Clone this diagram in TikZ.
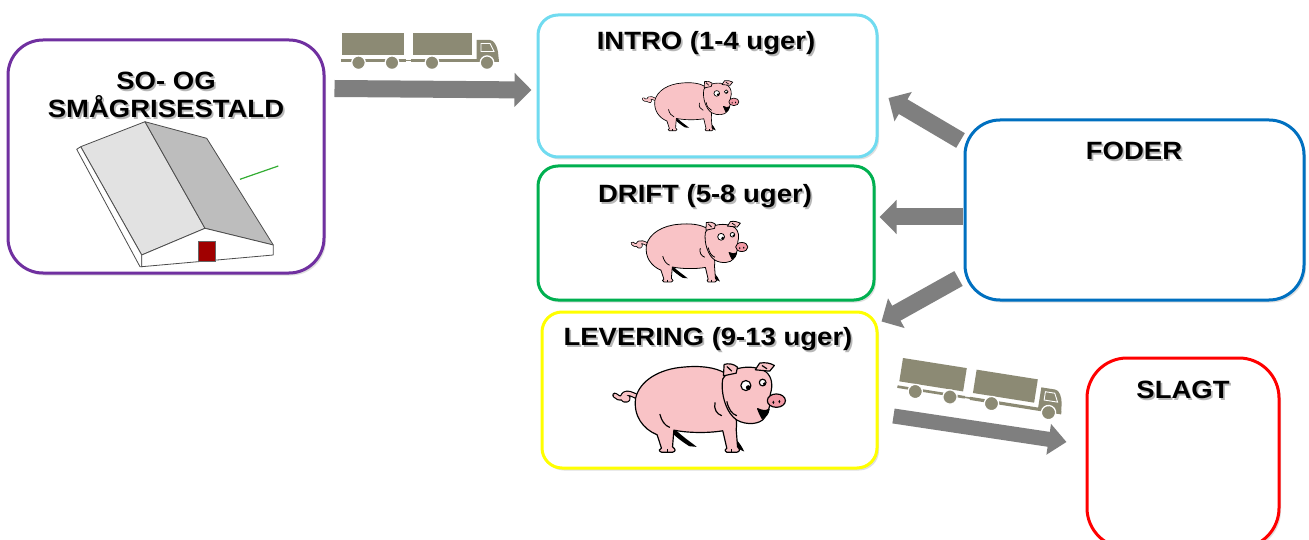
\documentclass[tikz,border=0pt]{standalone}
\usepackage{fontspec}
\usepackage{graphicx}
\setmainfont{Liberation Sans}
\usetikzlibrary{arrows.meta,shadows,calc}
\definecolor{cpurple}{HTML}{7030A0}
\definecolor{ccyan}{HTML}{70DBF0}
\definecolor{cgreen}{HTML}{00B050}
\definecolor{cyellow}{HTML}{FFFF00}
\definecolor{cblue}{HTML}{0070C0}
\definecolor{cred}{HTML}{FF0000}
\definecolor{arrowgray}{HTML}{7F7F7F}
\definecolor{truckc}{HTML}{8C8A74}
\definecolor{pigpink}{HTML}{F9C3C6}
\definecolor{snoutpink}{HTML}{F29AA6}
\definecolor{roofl}{HTML}{E2E2E2}
\definecolor{roofr}{HTML}{BDBDBD}
\definecolor{doorred}{HTML}{A00000}
\newcommand\shd[1]{\makebox[0pt][l]{\hspace{1.6pt}\raisebox{-1.8pt}{\textcolor{black!28}{#1}}}#1}
\newcommand\ttl[1]{\scalebox{1.1}[1]{\shd{#1}}}
\newcommand\drawpig[3]{%
\begin{scope}[shift={(#1,#2)},scale=#3,shift={(-480,-282)},line width=#3*3.5pt,line join=round]
  % far legs
  \fill[black] (405,345) .. controls (430,370) and (455,385) .. (470,398) -- (448,396) .. controls (430,385) and (410,370) .. (395,355) -- cycle;
  \fill[black] (555,345) .. controls (580,365) and (600,385) .. (612,412) -- (590,402) .. controls (575,385) and (560,370) .. (548,355) -- cycle;
  % tail
  \draw[black,line width=#3*16pt,line cap=round] (292,248) .. controls (275,240) and (265,235) .. (255,240) .. controls (245,246) and (248,262) .. (262,258) .. controls (270,254) and (262,244) .. (250,250) .. controls (240,255) and (232,250) .. (226,244);
  \draw[pigpink,line width=#3*9pt,line cap=round] (292,248) .. controls (275,240) and (265,235) .. (255,240) .. controls (245,246) and (248,262) .. (262,258) .. controls (270,254) and (262,244) .. (250,250) .. controls (240,255) and (232,250) .. (226,244);
  % body with near legs
  \filldraw[fill=pigpink] (288,252) .. controls (300,200) and (360,165) .. (430,160)
     .. controls (480,155) and (525,160) .. (555,178)
     -- (585,300)
     .. controls (590,320) and (590,335) .. (588,345)
     -- (592,398) .. controls (600,405) and (600,412) .. (590,414)
     -- (560,414) .. controls (552,410) and (555,404) .. (560,402)
     -- (548,350)
     .. controls (500,358) and (440,356) .. (402,348)
     -- (398,398) .. controls (408,405) and (408,412) .. (398,414)
     -- (365,414) .. controls (355,410) and (358,404) .. (365,402)
     -- (352,362)
     .. controls (310,345) and (280,305) .. (288,252) -- cycle;
  \draw (360,300) .. controls (365,320) and (375,335) .. (390,340);
  \draw (525,265) .. controls (520,285) and (530,300) .. (545,305);
  \draw (575,404) -- (575,414);
  \draw (382,404) -- (382,414);
  % head
  \filldraw[fill=pigpink] (548,195) .. controls (565,160) and (640,148) .. (678,175)
     .. controls (695,190) and (698,215) .. (690,240)
     -- (688,275)
     .. controls (685,290) and (678,300) .. (672,312)
     .. controls (660,330) and (620,335) .. (590,318)
     .. controls (560,300) and (540,240) .. (548,195) -- cycle;
  \draw (560,262) .. controls (565,285) and (575,300) .. (590,305);
  % ears
  \filldraw[fill=pigpink] (550,186) -- (552,152) .. controls (565,148) and (580,150) .. (592,160) -- (588,178) -- cycle;
  \draw (560,158) -- (575,172);
  \filldraw[fill=pigpink] (645,168) -- (658,148) .. controls (675,145) and (690,148) .. (702,155) -- (688,172) -- cycle;
  \draw (665,155) -- (680,165);
  % eyes
  \filldraw[fill=white] (617,215) circle (15);
  \fill[black] (624,221) circle (7);
  \filldraw[fill=white] (667,206) circle (10);
  \fill[black] (672,210) circle (5);
  % mouth
  \filldraw[fill=black] (652,284) .. controls (665,290) and (675,292) .. (686,286) .. controls (684,300) and (676,310) .. (665,313) .. controls (660,302) and (655,295) .. (652,284) -- cycle;
  % snout
  \filldraw[fill=snoutpink] (708,260) ellipse (27 and 20);
  \fill[black] (699,265) ellipse (3 and 5);
  \fill[black] (717,263) ellipse (3 and 5);
\end{scope}}
\newcommand\drawtruck[4]{%
\begin{scope}[shift={(#1,#2)},rotate=#4,scale=#3]
  \fill[truckc] (0,0) rectangle (61.5,22.5);
  \fill[truckc] (-1,26.5) rectangle (64,29);
  \fill[truckc] (64,27) rectangle (70,28.5);
  \fill[truckc] (71,0) rectangle (130,22.5);
  \fill[truckc] (69,26.5) rectangle (157,29.5);
  \fill[truckc] (134.5,7) -- (148,7) .. controls (152,7) and (155,13) .. (156,19) -- (157,29) -- (134.5,29) -- cycle;
  \draw[white,line width=0.9pt] (139,10.5) -- (148,10.5) -- (152,18.5) -- (139,18.5) -- cycle;
  \foreach \wx in {16.5,50,90,145} {\filldraw[fill=truckc,draw=white,line width=1.3pt] (\wx,29.7) circle (6.8);}
\end{scope}}
\tikzset{
  box/.style={draw, rectangle, line width=3pt, fill=white, inner sep=0pt,
    drop shadow={shadow xshift=2pt, shadow yshift=-2.5pt, opacity=0.25}},
  titlestyle/.style={inner sep=0pt, align=center, font=\fontsize{25}{28}\selectfont\bfseries},
  barrow/.style={draw=arrowgray, line width=17pt, -{Triangle[width=33pt,length=17pt]}},
  barrowthin/.style={draw=arrowgray, line width=15pt, -{Triangle[width=30pt,length=18pt]}},
  barnline/.style={draw=black!70, line width=0.8pt, line join=round}
}
\begin{document}
\begin{tikzpicture}[x=1pt,y=-1pt]
\useasboundingbox (0,0) rectangle (1309,540);
\clip (0,0) rectangle (1309,540);
\fill[white] (0,0) rectangle (1309,540);

% boxes
\node[box, draw=cpurple, rounded corners=35pt, minimum width=316pt, minimum height=233pt] (so) at (166,156.5) {};
\node[box, draw=ccyan, rounded corners=20pt, minimum width=339pt, minimum height=142pt] (intro) at (707.5,86) {};
\node[box, draw=cgreen, rounded corners=20pt, minimum width=336pt, minimum height=134pt] (drift) at (706,233) {};
\node[box, draw=cyellow, rounded corners=20pt, minimum width=335pt, minimum height=156pt] (lev) at (709.5,390) {};
\node[box, draw=cblue, rounded corners=35pt, minimum width=339pt, minimum height=180pt] (foder) at (1134.5,210) {};
\node[box, draw=cred, rounded corners=40pt, minimum width=192pt, minimum height=190pt] (slagt) at (1183,453) {};

% arrows
\draw[barrow] ([xshift=9pt,yshift=-50pt]so.north east) -- ([xshift=-5pt,yshift=-4pt]intro.west);
\draw[barrow] ([xshift=-3pt,yshift=-22pt]foder.north west) -- ([xshift=10pt,yshift=-12pt]intro.east);
\draw[barrow] ([xshift=-1pt,yshift=-7pt]foder.west) -- ([xshift=4pt,yshift=16pt]drift.east);
\draw[barrow] ([xshift=-5pt,yshift=23pt]foder.south west) -- ([xshift=3pt,yshift=-11pt]lev.north east);
\draw[barrowthin] ([xshift=15pt,yshift=-26pt]lev.east) -- ([xshift=-19pt,yshift=11pt]slagt.west);

% titles
\node[titlestyle] (so-t) at (166,96) {\ttl{SO- OG}\\\ttl{SMÅGRISESTALD}};
\node[titlestyle] (intro-t) at (706,44) {\ttl{INTRO (1-4 uger)}};
\node[titlestyle] (drift-t) at (705,197) {\ttl{DRIFT (5-8 uger)}};
\node[titlestyle] (lev-t) at (708,340) {\ttl{LEVERING (9-13 uger)}};
\node[titlestyle] (foder-t) at (1134,152) {\ttl{FODER}};
\node[titlestyle] (slagt-t) at (1183,391) {\ttl{SLAGT}};

% pigs
\drawpig{691}{106}{0.188}
\drawpig{690}{252}{0.227}
\drawpig{700}{408}{0.335}

% barn
\filldraw[fill=roofl, barnline] (80.7,146.7) -- (145,121.7) -- (205,228.3) -- (141.7,255) -- cycle;
\filldraw[fill=white, barnline] (76.7,149.3) -- (80.7,146.7) -- (141.7,255) -- (141.7,266.7) -- (140,266.7) -- cycle;
\filldraw[fill=roofr, barnline] (145,121.7) -- (206.7,138.3) -- (273.3,245) -- (205,228.3) -- cycle;
\filldraw[fill=white, barnline] (141.7,255) -- (205,228.3) -- (273.3,245) -- (273.3,255) -- (141.7,266.7) -- cycle;
\filldraw[fill=doorred, draw=black!60, line width=0.5pt] (198.3,241.7) rectangle (215,261.2);
\draw[green!60!black!80, line width=1.2pt] (240,179.3) -- (278.3,166);

% trucks
\drawtruck{342}{33}{1}{0}
\drawtruck{903}{358}{1.05}{-9}
\end{tikzpicture}
\end{document}
